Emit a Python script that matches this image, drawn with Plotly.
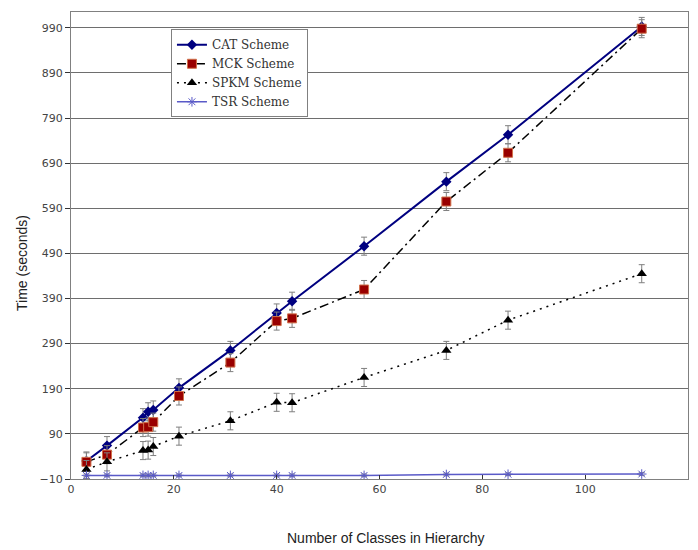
import plotly.graph_objects as go

# Number of classes in the hierarchy
classes = [3, 7, 14, 15, 16, 21, 31, 40, 43, 57, 73, 85, 111]

# Run times (seconds) per scheme
cat_time = [30, 64, 126, 139, 143, 192, 275, 358, 384, 506, 649, 753, 993]
mck_time = [28, 44, 104, 105, 116, 174, 248, 340, 346, 410, 605, 713, 988]
spkm_time = [11, 28, 53, 54, 62, 85, 119, 160, 159, 215, 275, 342, 445]
tsr_time = [-2, -2, -2, -2, -2, -2, -2, -2, -2, -2, 0, 0.5, 1]

# Half-width of the error bars (seconds)
err_main = 20
err_tsr = 3

series_names = ["CAT Scheme", "MCK Scheme", "SPKM Scheme", "TSR Scheme"]
y_ticks = list(range(-10, 1000, 100))
x_ticks = list(range(0, 121, 20))

ebar = dict(type="constant", color="#7f7f7f", thickness=1, width=3)

fig = go.Figure()

fig.add_trace(go.Scatter(
    x=classes, y=cat_time, name=series_names[0], mode="lines+markers",
    line=dict(color="#000080", width=2),
    marker=dict(symbol="diamond", size=8, color="#000080"),
    error_y=dict(value=err_main, **ebar),
))
fig.add_trace(go.Scatter(
    x=classes, y=mck_time, name=series_names[1], mode="lines+markers",
    line=dict(color="#000000", width=1.5, dash="9px,4px,2px,4px"),
    marker=dict(symbol="square", size=9, color="#990000",
                line=dict(color="#d0704a", width=1)),
    error_y=dict(value=err_main, **ebar),
))
fig.add_trace(go.Scatter(
    x=classes, y=spkm_time, name=series_names[2], mode="lines+markers",
    line=dict(color="#000000", width=1.5, dash="2px,5px"),
    marker=dict(symbol="triangle-up", size=9, color="#000000"),
    error_y=dict(value=err_main, **ebar),
))
fig.add_trace(go.Scatter(
    x=classes, y=tsr_time, name=series_names[3], mode="lines+markers",
    line=dict(color="#5a5ac8", width=1.5),
    marker=dict(symbol="asterisk-open", size=8,
                line=dict(color="#707070", width=1)),
    error_y=dict(value=err_tsr, **ebar),
))

axis_font = dict(family="DejaVu Sans", size=11, color="#444444")

fig.update_layout(
    width=698, height=550,
    margin=dict(l=71, r=10, t=12, b=71),
    paper_bgcolor="white", plot_bgcolor="white",
    showlegend=True,
    legend=dict(
        x=0.162, y=0.963, xanchor="left", yanchor="top",
        bgcolor="white", bordercolor="#808080", borderwidth=1,
        font=dict(family="DejaVu Serif", size=12, color="#333333"),
        itemwidth=30, tracegroupgap=0,
    ),
    xaxis=dict(
        range=[0, 120], tickvals=x_ticks, ticks="inside", ticklen=4,
        tickcolor="#333333", showgrid=False, zeroline=False,
        showline=True, linecolor="#808080", linewidth=1, mirror=True,
        tickfont=axis_font,
    ),
    yaxis=dict(
        range=[-10, 1025], tickvals=y_ticks, ticks="outside", ticklen=5,
        tickcolor="#333333", showgrid=True, gridcolor="#6e6e6e",
        gridwidth=1, zeroline=False,
        showline=True, linecolor="#808080", linewidth=1, mirror=True,
        tickfont=axis_font,
    ),
    annotations=[
        dict(text="Number of Classes in Hierarchy", xref="paper", yref="paper",
             x=(386 - 71) / 617, y=-(538 - 479) / 467, xanchor="center",
             yanchor="middle", showarrow=False,
             font=dict(family="Liberation Sans", size=14, color="#222222")),
        dict(text="Time (seconds)", xref="paper", yref="paper",
             x=-(71 - 22) / 617, y=(479 - 263) / 467, xanchor="center",
             yanchor="middle", showarrow=False, textangle=-90,
             font=dict(family="Liberation Sans", size=14, color="#222222")),
    ],
)

fig.write_html("out.html")
